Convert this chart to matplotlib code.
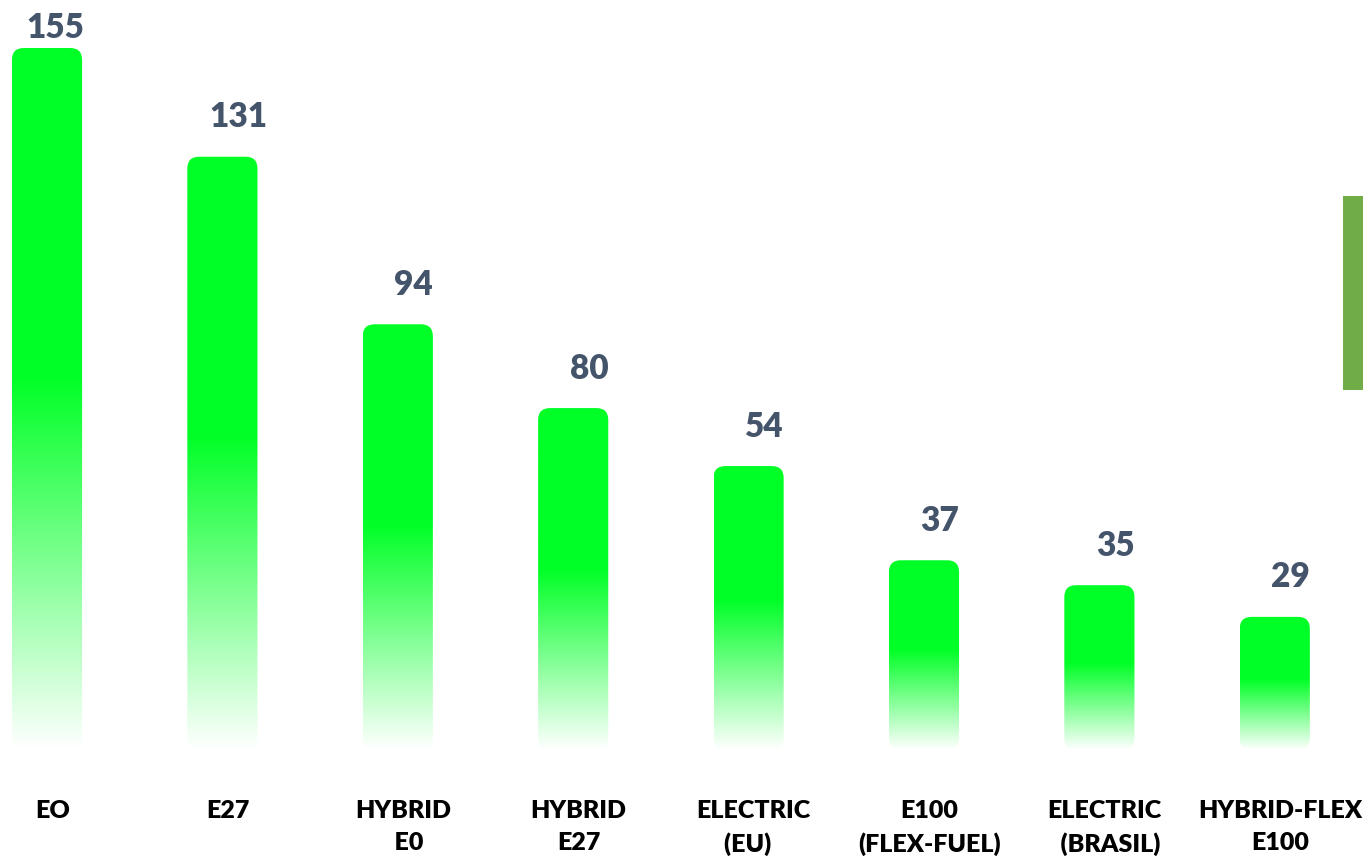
import numpy as np
import matplotlib.pyplot as plt
from matplotlib.patches import FancyBboxPatch, Rectangle

# category names (two lines where the original wraps)
categories = ['EO', 'E27', 'HYBRID\n  E0', 'HYBRID\nE27', 'ELECTRIC\n(EU)  ',
              'E100\n(FLEX-FUEL)', 'ELECTRIC\n  (BRASIL)', 'HYBRID-FLEX\nE100']
# printed values
values = [155, 131, 94, 80, 54, 37, 35, 29]
# bar heights as drawn in the picture (not strictly proportional)
bar_heights = [155, 131, 94, 75.5, 62.7, 41.9, 36.4, 29.4]

plt.rcParams['font.family'] = ['Lato', 'DejaVu Sans']

fig = plt.figure(figsize=(13.63, 8.61), dpi=100)
ax = fig.add_axes([0, 0, 1, 1])
ax.set_xlim(-0.268, 7.503)
ax.set_ylim(-24.5, 165.6)
ax.axis('off')

width = 0.40
top_rgb = np.array([0, 255, 38]) / 255.0
# vertical gradient: solid green on upper half, fading to white at the base
t = np.linspace(0, 1, 256)  # 0 = top, 1 = bottom
f = np.clip((t - 0.47) / 0.53, 0, 1)
grad = top_rgb[None, :] * (1 - f[:, None]) + f[:, None]
grad = grad[:, None, :]

for i, h in enumerate(bar_heights):
    x0 = i - width / 2
    patch = FancyBboxPatch((x0, 0), width, h,
                           boxstyle='round,pad=0,rounding_size=0.068',
                           mutation_aspect=38.7, facecolor='none',
                           edgecolor='none')
    ax.add_patch(patch)
    im = ax.imshow(grad, extent=[x0, x0 + width, 0, h], aspect='auto',
                   interpolation='bilinear', zorder=2)
    im.set_clip_path(patch)

    ly = min(h + 8.7, 159.5)
    ax.text(i + (0.05 if i == 0 else 0.09), ly, str(values[i]),
            ha='center', va='center', fontsize=24, fontweight='heavy',
            color='#44546A')

    ax.text(i + 0.03, -11.0, categories[i], ha='center', va='top',
            fontsize=18, fontweight='heavy', color='black', linespacing=1.55)

# green marker at the right edge
fig.add_artist(Rectangle((1343 / 1363, 1 - 390 / 861), 20 / 1363, 194 / 861,
                         transform=fig.transFigure, facecolor='#70AD47',
                         edgecolor='none'))

fig.savefig('out.png', dpi=100)
